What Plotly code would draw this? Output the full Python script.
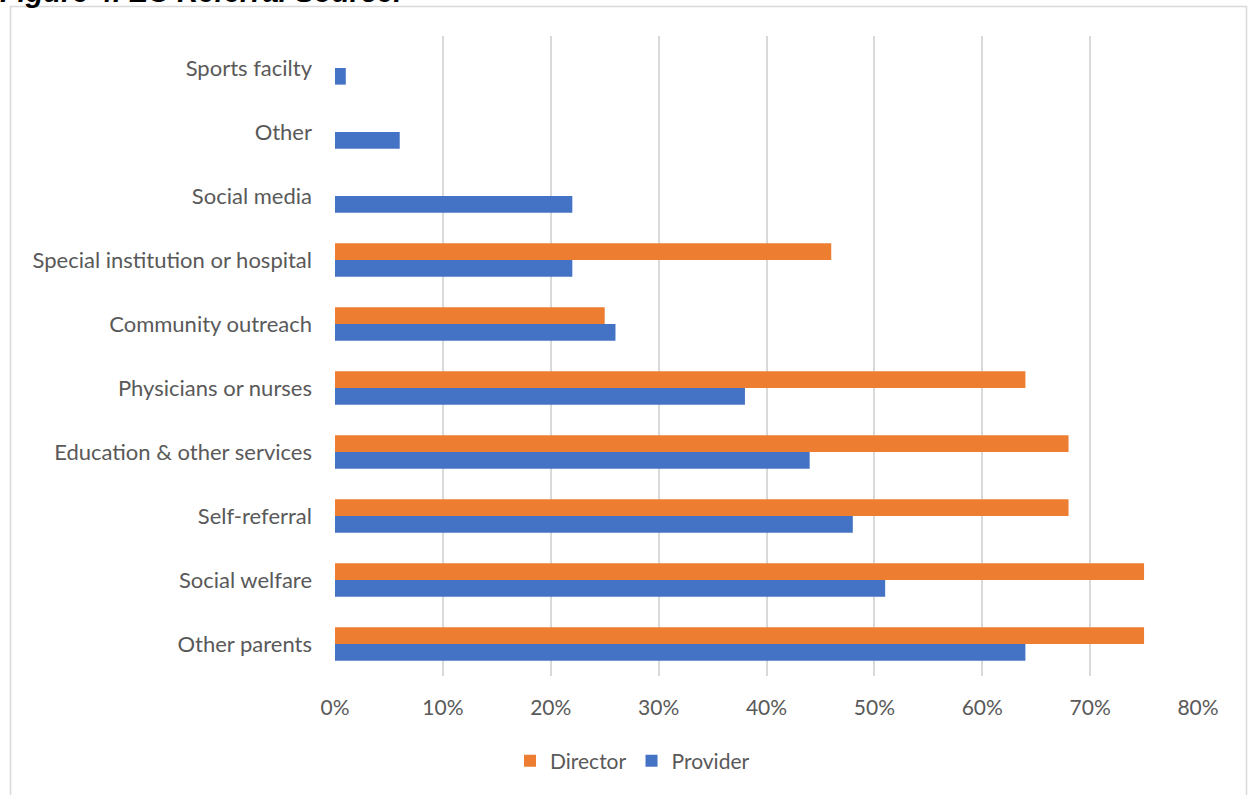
import plotly.graph_objects as go

# Referral sources, listed bottom to top as drawn on the category axis
categories = [
    "Other parents",
    "Social welfare",
    "Self-referral",
    "Education & other services",
    "Physicians or nurses",
    "Community outreach",
    "Special institution or hospital",
    "Social media",
    "Other",
    "Sports facilty",
]
director = [75, 75, 68, 68, 64, 25, 46, None, None, None]
provider = [64, 51, 48, 44, 38, 26, 22, 22, 6, 1]
x_ticks = [0, 10, 20, 30, 40, 50, 60, 70, 80]
x_tick_text = [f"{v}%" for v in x_ticks]

W, H = 1248, 795
L, R, T, B = 335, 50, 36, 119
PW, PH = W - L - R, H - T - B


def px_x(p):
    return (p - L) / PW


def px_y(p):
    return (H - B - p) / PH


TEXT = "#595959"
FONT = "Lato"

fig = go.Figure()
fig.add_trace(go.Bar(
    y=categories, x=provider, name="Provider", orientation="h",
    marker=dict(color="#4472C4", line=dict(width=0)),
))
fig.add_trace(go.Bar(
    y=categories, x=director, name="Director", orientation="h",
    marker=dict(color="#ED7D31", line=dict(width=0)),
))

fig.update_layout(
    width=W, height=H,
    margin=dict(l=L, r=R, t=T, b=B, autoexpand=False),
    paper_bgcolor="white", plot_bgcolor="white",
    barmode="group", bargap=0.48, bargroupgap=0,
    font=dict(family=FONT, size=21, color=TEXT),
    showlegend=True,
    legend=dict(
        orientation="h", traceorder="reversed",
        x=px_x(510), xanchor="left",
        y=px_y(761), yanchor="middle",
        font=dict(family=FONT, size=21, color=TEXT),
        itemwidth=30, itemsizing="constant",
        bgcolor="rgba(0,0,0,0)",
    ),
)
fig.update_xaxes(
    range=[0, 80], tickvals=x_ticks, ticktext=x_tick_text,
    tickangle=0, tickfont=dict(size=21),
    showgrid=True, gridcolor="#D9D9D9", gridwidth=1.5,
    zeroline=False, showline=False, ticks="",
    ticklabelstandoff=17, automargin=False,
)
fig.update_yaxes(
    tickfont=dict(size=22),
    showgrid=False, zeroline=False, showline=False, ticks="",
    ticklabelstandoff=22, automargin=False,
)

# Chart frame
fig.add_shape(
    type="rect", xref="paper", yref="paper",
    x0=px_x(10.5), x1=px_x(1246.5), y0=px_y(805), y1=px_y(6.5),
    line=dict(color="#D9D9D9", width=1.5), fillcolor="rgba(0,0,0,0)",
    layer="below",
)

# Figure caption above the frame
fig.add_annotation(
    text="<b><i>Figure 4. EC Referral Source.</i></b>",
    xref="paper", yref="paper", x=px_x(-2), y=px_y(10),
    xanchor="left", yanchor="bottom", showarrow=False,
    font=dict(family="Liberation Sans", size=29, color="#000000"),
)

fig.write_html("out.html")
